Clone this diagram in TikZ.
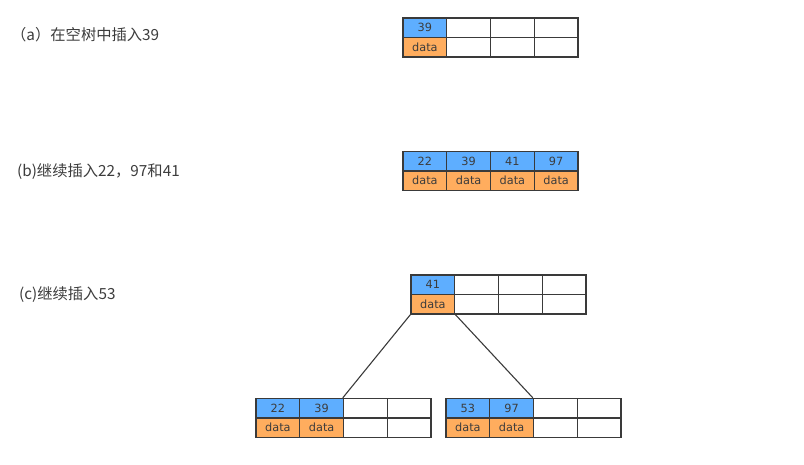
\documentclass[tikz,border=0pt]{standalone}
\usepackage{fontspec}
\newfontfamily\cjkfont{Noto Sans CJK SC}
\newfontfamily\cellfont{DejaVu Sans}
\usepackage{tikz}
\usetikzlibrary{positioning}

\definecolor{keyblue}{HTML}{5EAEFF}
\definecolor{dataorange}{HTML}{FFAD5E}
\definecolor{linegray}{HTML}{3A3A3A}
\definecolor{textgray}{HTML}{3C3C3C}

\tikzset{
  cell/.style={draw=linegray, line width=1.4pt, minimum width=43.75pt, minimum height=19.5pt,
    inner sep=0pt, font=\cellfont\fontsize{11.3}{12}\selectfont, text=textgray},
  keycell/.style={cell, fill=keyblue},
  datacell/.style={cell, fill=dataorange},
  emptycell/.style={cell, fill=white},
  steplabel/.style={anchor=west, inner sep=0pt, text=textgray, font=\cjkfont\fontsize{15.3}{17}\selectfont},
  link/.style={draw=linegray, line width=1.1pt}
}

\begin{document}
\begin{tikzpicture}[x=1pt, y=-1pt]
\useasboundingbox (0,0) rectangle (804,464);

% step labels
\node[steplabel] (la) at (11,35) {（a）在空树中插入39};
\node[steplabel] (lb) at (17,172) {(b)继续插入22，97和41};
\node[steplabel] (lc) at (19,295) {(c)继续插入53};

% (a) one key in an empty tree
\node[keycell]  (a-k1) at (424.9,27.75) {39};
\node[datacell] (a-d1) at (424.9,47.25) {data};
\foreach \i in {2,3,4} {
  \node[emptycell] (a-k\i) at ({403+43.75*(\i-0.5)},27.75) {};
  \node[emptycell] (a-d\i) at ({403+43.75*(\i-0.5)},47.25) {};
}

% (b) node filled with four keys
\foreach \i/\k in {1/22,2/39,3/41,4/97} {
  \node[keycell]  (b-k\i) at ({403+43.75*(\i-0.5)},161.25) {\k};
  \node[datacell] (b-d\i) at ({403+43.75*(\i-0.5)},180.75) {data};
}

% (c) root after split
\node[keycell]  (c-k1) at (432.9,284.75) {41};
\node[datacell] (c-d1) at (432.9,304.25) {data};
\foreach \i in {2,3,4} {
  \node[emptycell] (c-k\i) at ({411+43.75*(\i-0.5)},284.75) {};
  \node[emptycell] (c-d\i) at ({411+43.75*(\i-0.5)},304.25) {};
}

% left child
\foreach \i/\k in {1/22,2/39} {
  \node[keycell]  (l-k\i) at ({256+43.75*(\i-0.5)},408.25) {\k};
  \node[datacell] (l-d\i) at ({256+43.75*(\i-0.5)},427.75) {data};
}
\foreach \i in {3,4} {
  \node[emptycell] (l-k\i) at ({256+43.75*(\i-0.5)},408.25) {};
  \node[emptycell] (l-d\i) at ({256+43.75*(\i-0.5)},427.75) {};
}

% right child
\foreach \i/\k in {1/53,2/97} {
  \node[keycell]  (r-k\i) at ({446+43.75*(\i-0.5)},408.25) {\k};
  \node[datacell] (r-d\i) at ({446+43.75*(\i-0.5)},427.75) {data};
}
\foreach \i in {3,4} {
  \node[emptycell] (r-k\i) at ({446+43.75*(\i-0.5)},408.25) {};
  \node[emptycell] (r-d\i) at ({446+43.75*(\i-0.5)},427.75) {};
}

% pointers
\draw[link] (c-d1.south west) -- (l-k3.north west);
\draw[link] (c-d1.south east) -- (r-k3.north west);

\end{tikzpicture}
\end{document}
